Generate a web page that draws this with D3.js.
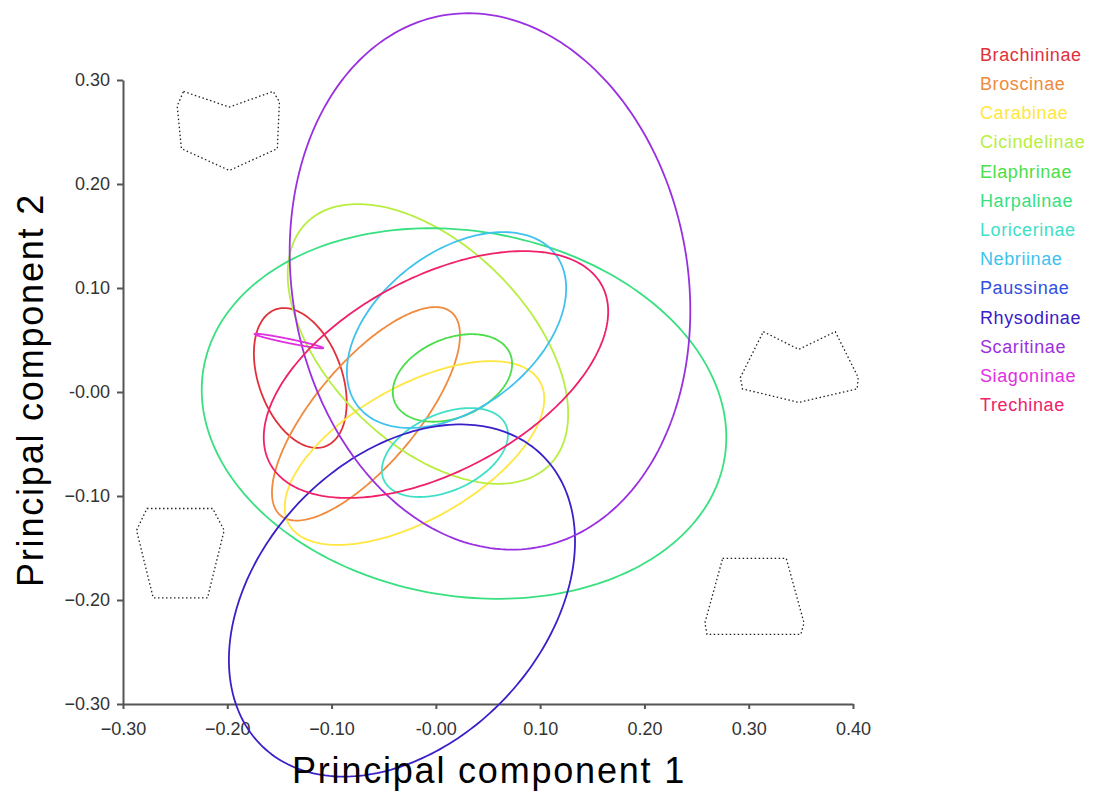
<!DOCTYPE html>
<html>
<head>
<meta charset="utf-8">
<script src="https://cdn.jsdelivr.net/npm/d3@7"></script>
<style>
    body { margin: 0; background: #fff; }
    .axis text { font-family: Arial, "Liberation Sans", sans-serif; font-size: 18px; fill: #333; }
    .axis path, .axis line { stroke: #555; stroke-width: 2; }
    .axis-title { font-family: Arial, "Liberation Sans", sans-serif; font-size: 36px; fill: #000; letter-spacing: 1.8px; }
    .legend-label { font-family: Arial, "Liberation Sans", sans-serif; font-size: 18px; letter-spacing: 0.6px; }
</style>
</head>
<body>
<div id="chart-area"></div>
<script>

// subfamilies and their 95% ellipses (centre, semi-axes, rotation in degrees)
const subfamilies = ["Brachininae", "Broscinae", "Carabinae", "Cicindelinae", "Elaphrinae", "Harpalinae",
    "Loricerinae", "Nebriinae", "Paussinae", "Rhysodinae", "Scaritinae", "Siagoninae", "Trechinae"];
const centerX   = [-0.130, -0.067, -0.0205, -0.0076, 0.0159, 0.027, 0.0087, 0.0198, null, -0.0325, 0.0519, -0.1409, 0.0001];
const centerY   = [0.0135, -0.021, -0.0587, 0.0462, 0.0135, -0.0207, -0.0582, 0.0596, null, -0.2005, 0.1063, 0.049, 0.0168];
const semiMajor = [0.070, 0.1275, 0.1385, 0.1647, 0.060, 0.2535, 0.0642, 0.1196, null, 0.1939, 0.2597, 0.0336, 0.1807];
const semiMinor = [0.040, 0.049, 0.0641, 0.0951, 0.038, 0.1753, 0.0369, 0.0749, null, 0.1364, 0.1896, 0.002, 0.0933];
const angleDeg  = [109.8, 50, 29.7, -45, 23, -10, 24.3, 37.7, null, 46.7, 100, -11.6, 28.3];

const colors = ["#e0303a", "#f08a3c", "#ffe640", "#b8ee40", "#4ade48", "#38e080",
    "#40e0c8", "#40c2ee", "#3050e0", "#3a20c8", "#9a30e0", "#e030e0", "#f0206a"];

const xTicks = [-0.30, -0.20, -0.10, 0.00, 0.10, 0.20, 0.30, 0.40];
const yTicks = [-0.30, -0.20, -0.10, 0.00, 0.10, 0.20, 0.30];

// shape outlines drawn in the corners (data coordinates)
const outlineTopLeft = [[-0.242, 0.289], [-0.198, 0.274], [-0.156, 0.289], [-0.150, 0.279],
    [-0.152, 0.234], [-0.198, 0.213], [-0.244, 0.234], [-0.248, 0.275]];
const outlineRightTop = [[0.314, 0.058], [0.348, 0.041], [0.383, 0.058], [0.405, 0.014],
    [0.404, 0.003], [0.348, -0.010], [0.294, 0.003], [0.292, 0.014]];
const outlineRightBottom = [[0.275, -0.160], [0.336, -0.160], [0.353, -0.222],
    [0.350, -0.233], [0.260, -0.233], [0.258, -0.222]];
const outlineLeftBottom = [[-0.277, -0.112], [-0.214, -0.112], [-0.203, -0.133],
    [-0.219, -0.198], [-0.271, -0.198], [-0.287, -0.133]];


class EllipsePlot {

    constructor(parentElement) {
        this.parentElement = parentElement;
        this.initVis();
    }

    initVis() {
        let vis = this;

        vis.margin = {top: 80, right: 244, bottom: 90, left: 123};
        vis.width = 1097 - vis.margin.left - vis.margin.right;
        vis.height = 794 - vis.margin.top - vis.margin.bottom;

        vis.svgRoot = d3.select("#" + vis.parentElement).append("svg")
            .attr("width", 1097)
            .attr("height", 794);

        vis.svg = vis.svgRoot.append("g")
            .attr("transform", "translate(" + vis.margin.left + "," + vis.margin.top + ")");

        // scales
        vis.x = d3.scaleLinear().domain([-0.30, 0.40]).range([0, vis.width]);
        vis.y = d3.scaleLinear().domain([-0.30, 0.30]).range([vis.height, 0]);

        let fmt = d => d === 0 ? "-0.00" : d3.format(".2f")(d);

        vis.xAxis = d3.axisBottom(vis.x).tickValues(xTicks).tickFormat(fmt)
            .tickSize(5).tickSizeOuter(0).tickPadding(13);
        vis.yAxis = d3.axisLeft(vis.y).tickValues(yTicks).tickFormat(fmt)
            .tickSize(6).tickSizeOuter(0).tickPadding(7);

        vis.svg.append("g")
            .attr("class", "x-axis axis")
            .attr("transform", "translate(0," + vis.height + ")")
            .call(vis.xAxis);
        vis.svg.append("g")
            .attr("class", "y-axis axis")
            .call(vis.yAxis);

        // axis titles
        vis.svgRoot.append("text")
            .attr("class", "axis-title")
            .attr("x", 489)
            .attr("y", 783)
            .attr("text-anchor", "middle")
            .text("Principal component 1");

        vis.svgRoot.append("text")
            .attr("class", "axis-title")
            .attr("transform", "translate(43,390) rotate(-90)")
            .attr("text-anchor", "middle")
            .text("Principal component 2");

        vis.line = d3.line()
            .x(d => vis.x(d[0]))
            .y(d => vis.y(d[1]))
            .curve(d3.curveLinearClosed);

        vis.updateVis();
    }

    updateVis() {
        let vis = this;

        // corner outlines
        let outlines = [outlineTopLeft, outlineRightTop, outlineRightBottom, outlineLeftBottom];
        vis.svg.selectAll("path.outline")
            .data(outlines)
            .enter()
            .append("path")
            .attr("class", "outline")
            .attr("d", vis.line)
            .attr("fill", "none")
            .attr("stroke", "#222")
            .attr("stroke-width", 1.3)
            .attr("stroke-dasharray", "1.5,2.5");

        // ellipses
        vis.ellipseData = [];
        for (let i = 0; i < subfamilies.length; i++) {
            if (centerX[i] === null) continue;
            let th = angleDeg[i] * Math.PI / 180;
            let pts = [];
            for (let k = 0; k < 240; k++) {
                let t = k / 240 * 2 * Math.PI;
                let u = semiMajor[i] * Math.cos(t), v = semiMinor[i] * Math.sin(t);
                pts.push([centerX[i] + u * Math.cos(th) - v * Math.sin(th),
                          centerY[i] + u * Math.sin(th) + v * Math.cos(th)]);
            }
            vis.ellipseData.push({name: subfamilies[i], color: colors[i], points: pts});
        }

        vis.svg.selectAll("path.ellipse")
            .data(vis.ellipseData)
            .enter()
            .append("path")
            .attr("class", "ellipse")
            .attr("d", d => vis.line(d.points))
            .attr("fill", "none")
            .attr("stroke", d => d.color)
            .attr("stroke-width", 1.8);

        // legend
        vis.svgRoot.selectAll("text.legend-label")
            .data(subfamilies)
            .enter()
            .append("text")
            .attr("class", "legend-label")
            .attr("x", 980)
            .attr("y", (d, i) => 56 + i * 29.2)
            .attr("dominant-baseline", "middle")
            .attr("fill", (d, i) => colors[i])
            .text(d => d);
    }
}

let plot = new EllipsePlot("chart-area");

</script>
</body>
</html>
